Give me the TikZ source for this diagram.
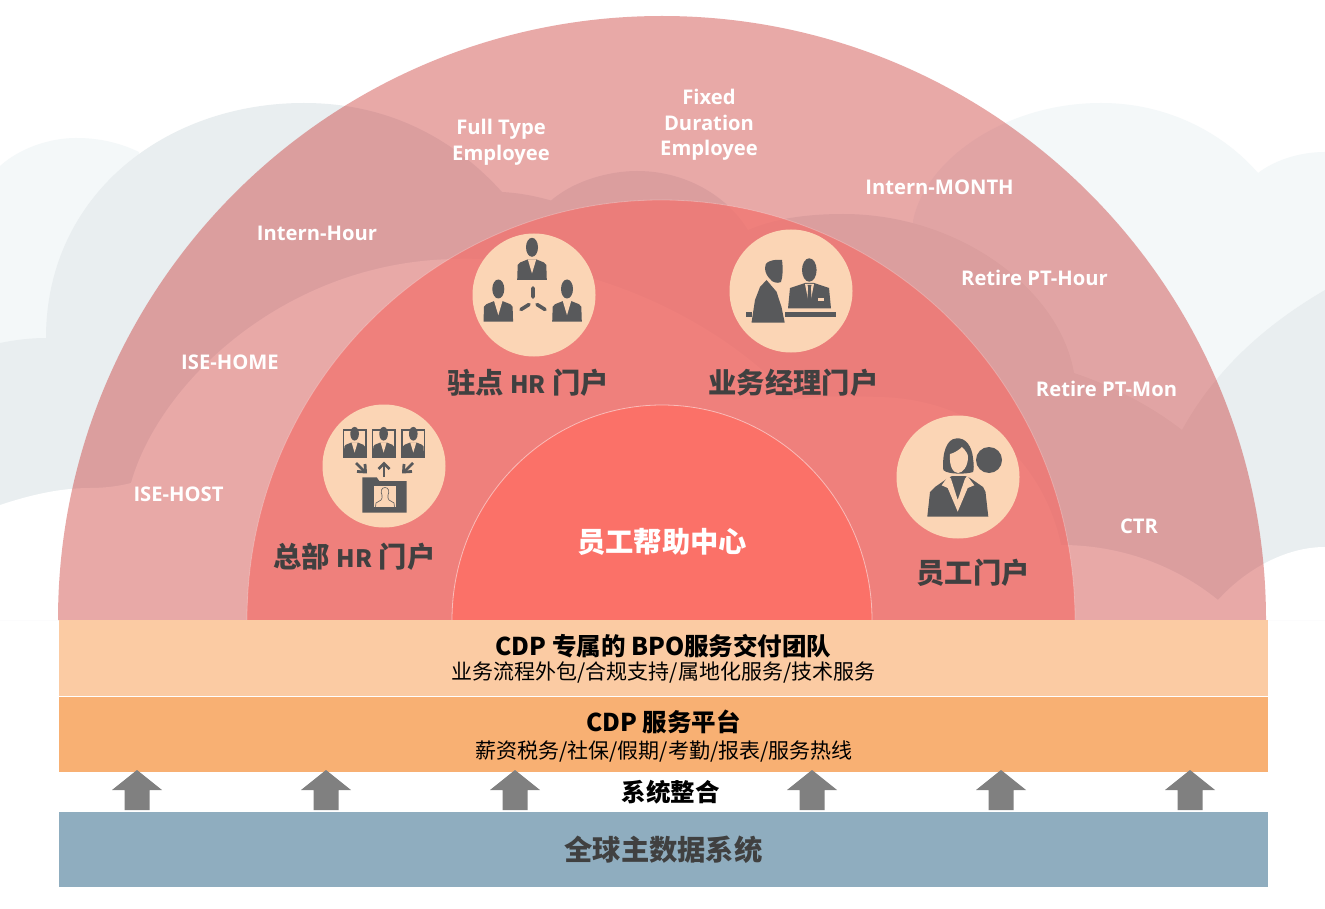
\documentclass[tikz,border=0pt]{standalone}
\usepackage{fontspec}
\setmainfont{Open Sans}
\newfontfamily\cjk{Noto Sans CJK SC}
\definecolor{cloudD}{HTML}{E9EEF0}
\definecolor{cloudL}{HTML}{F4F8F9}
\definecolor{outerC}{RGB}{198,40,37}
\definecolor{midC}{RGB}{243,112,107}
\definecolor{innerC}{HTML}{FB7168}
\definecolor{peach}{HTML}{FBD5B5}
\definecolor{icon}{HTML}{58595B}
\definecolor{bandA}{HTML}{FBCBA3}
\definecolor{bandB}{HTML}{F8B073}
\definecolor{bandC}{HTML}{8FADBF}
\definecolor{arrowC}{HTML}{808080}
\definecolor{labelC}{HTML}{404040}
\newcommand{\hrtxt}{{\fontsize{24}{30}\selectfont HR}}
\tikzset{
 lab/.style={font=\fontsize{20.2}{25.6}\selectfont\bfseries,text=white,align=center,inner sep=0pt},
 portal/.style={font=\cjk\fontsize{28.3}{30}\selectfont\bfseries,text=labelC,inner sep=0pt},
 bandhead/.style={font=\cjk\fontsize{24.5}{26}\selectfont\bfseries,text=black,inner sep=0pt},
 bandsub/.style={font=\cjk\fontsize{21}{24}\selectfont,text=black,inner sep=0pt},
 disc/.style={circle,fill=peach,minimum size=123pt,inner sep=0pt},
 ic/.style={fill=icon,draw=none},
 pc/.style={fill=peach,draw=none},
 bust/.pic={
  \fill[ic] (0,-32.7) ellipse[x radius=6,y radius=9.5];
  \fill[ic] (-14.8,0) -- (-14.3,-15) -- (-12,-17.5) -- (-4.5,-20.5) -- (4.5,-20.5) -- (12,-17.5) -- (14.3,-15) -- (14.8,0) -- cycle;
  \fill[pc] (-4.2,-20.6) -- (0,-6.5) -- (4.2,-20.6) -- cycle;
 },
 upshaft/.pic={
  \fill[arrowC] (0,-40) -- (25,-20) -- (12.5,-20) -- (12.5,0) -- (-12.5,0) -- (-12.5,-20) -- (-25,-20) -- cycle;
 }
}
\begin{document}
\begin{tikzpicture}[x=1pt,y=-1pt]
\useasboundingbox (0,0) rectangle (1325,909);
\fill[white] (0,0) rectangle (1325,909);
% clouds
\fill[cloudL] (0,166) .. controls (20,148) and (50,138) .. (76,138) .. controls (100,138) and (120,143) .. (139,152) -- (139,400) -- (0,400) -- cycle;
\fill[cloudL] (913,221) .. controls (925,160) and (1005,103) .. (1101,103) .. controls (1170,103) and (1225,135) .. (1258,173) .. controls (1275,160) and (1300,152) .. (1325,152) -- (1325,500) -- (913,500) -- cycle;
\fill[cloudD] (0,343) .. controls (15,340) and (30,338) .. (46,338)
  .. controls (46,195) and (165,103) .. (304,103) .. controls (390,103) and (455,140) .. (502,192)
  .. controls (520,193) and (535,196) .. (551,200.5)
  .. controls (575,180) and (610,171) .. (637,171) .. controls (690,171) and (730,200) .. (748,230)
  .. controls (775,218) and (810,214) .. (843,214) .. controls (960,214) and (1060,290) .. (1074,373)
  .. controls (1110,385) and (1150,405) .. (1182,430)
  .. controls (1215,370) and (1265,325) .. (1325,290)
  -- (1325,620) -- (0,620) -- cycle;
\fill[white] (0,505) .. controls (30,495) and (60,488) .. (90,488) .. controls (105,488) and (120,486) .. (131,483)
  .. controls (160,380) and (290,259) .. (460,259) .. controls (575,257) and (710,310) .. (793,400)
  .. controls (815,396) and (850,396) .. (873,397) .. controls (985,397) and (1045,470) .. (1061,545)
  .. controls (1120,545) and (1175,565) .. (1218,600) .. controls (1245,570) and (1285,547) .. (1325,547)
  -- (1325,620) -- (0,620) -- cycle;
% semicircles
\fill[outerC,fill opacity=.4] (58,620) .. controls (58,286.4) and (328.4,16) .. (662,16) .. controls (995.6,16) and (1266,286.4) .. (1266,620) -- cycle;
\fill[midC,fill opacity=.7] (247,620) .. controls (247,388) and (432.3,200) .. (661,200) .. controls (889.7,200) and (1075,388) .. (1075,620) -- cycle;
\draw[white,draw opacity=.25,line width=.8pt] (247,620) .. controls (247,388) and (432.3,200) .. (661,200) .. controls (889.7,200) and (1075,388) .. (1075,620);
\fill[innerC] (452,620) .. controls (452,501.3) and (546,405) .. (662,405) .. controls (778,405) and (872,501.3) .. (872,620) -- cycle;
\draw[white,draw opacity=.5,line width=.8pt] (452,620) .. controls (452,501.3) and (546,405) .. (662,405) .. controls (778,405) and (872,501.3) .. (872,620);
% bands
\fill[bandA] (59,620) rectangle (1268,696);
\fill[bandB] (59,697) rectangle (1268,772);
\fill[bandC] (59,812) rectangle (1268,887);
\foreach \x/\n in {137/a,326/b,515/c,812/d,1001/e,1190/f} \pic (arr\n) at (\x,810) {upshaft};
% outer labels
\node[lab] (l1) at (709,125) {Fixed\\Duration\\Employee};
\node[lab] (l2) at (501,142.5) {Full Type\\Employee};
\node[lab] (l3) at (939.5,187) {Intern-MONTH};
\node[lab] (l4) at (317,233) {Intern-Hour};
\node[lab] (l5) at (1034.5,278) {Retire PT-Hour};
\node[lab] (l6) at (230,362) {ISE-HOME};
\node[lab] (l7) at (1106.5,389) {Retire PT-Mon};
\node[lab] (l8) at (178.5,494) {ISE-HOST};
\node[lab] (l9) at (1139,526) {CTR};
% discs
\node[disc] (d1) at (534,295) {};
\node[disc] (d2) at (791,291) {};
\node[disc] (d3) at (384,466) {};
\node[disc] (d4) at (958,477) {};
% icon 1: three people
\pic at (532,280) {bust};
\pic at (498.3,321.7) {bust};
\pic at (567,321.7) {bust};
\draw[icon,line width=3.6pt,line cap=round] (533,288) -- (533,297) (521,309.5) -- (529,304.5) (545,309.5) -- (537,304.5);
% icon 2: manager at desk
\fill[ic] (785,312) rectangle (836,317);
\fill[ic] (746,312) rectangle (752,317);
\fill[ic] (809.3,270) ellipse[x radius=7.3,y radius=11.7];
\fill[ic] (788,308.5) -- (790,288) -- (805,283) -- (814,283) -- (829,288) -- (831,308.5) -- cycle;
\fill[pc] (805,284) -- (809.5,307) -- (814,284) -- cycle;
\fill[ic] (807.5,285) -- (811.5,285) -- (810.8,287.5) -- (812,305) -- (809.5,307) -- (807,305) -- (808.2,287.5) -- cycle;
\fill[pc] (817.5,298.5) rectangle (824,301);
\fill[ic] (765,268) .. controls (764,262) and (772,259) .. (782,260) .. controls (783,268) and (783,276) .. (781,282) .. controls (777,284) and (772,282) .. (770,279) .. controls (767,276) and (765,272) .. (765,268) -- cycle;
\fill[ic] (751.5,322.7) -- (755,300) -- (760,287) -- (766.5,280) -- (776.5,291.7) -- (781.5,307) -- (784.7,322.7) -- cycle;
% icon 3: frames and folder
\foreach \fx/\n in {343.3/a,372.3/b,402/c} {
 \draw[icon,line width=1.5pt,fill=peach] (\fx,429.8) rectangle +(22.7,27.5);
 \pic[scale=.72] at (\fx+11.3,457.3) {bust};
}
\draw[icon,line width=2.8pt] (384,477) -- (384,464);
\draw[icon,line width=2.8pt] (378.5,469) -- (384,463.5) -- (389.5,469);
\draw[icon,line width=2.8pt] (356,463) -- (365,472);
\draw[icon,line width=2.8pt] (357,471.5) -- (365.5,472) -- (365,464);
\draw[icon,line width=2.8pt] (413,463) -- (404,472);
\draw[icon,line width=2.8pt] (412,471.5) -- (403.5,472) -- (404,464);
\fill[ic] (362.3,477.3) -- (376.7,477.3) -- (379.3,481) -- (406.7,481) -- (406.7,512.7) -- (362.3,512.7) -- cycle;
\fill[pc] (374,486) rectangle (396,507.3);
\draw[icon,line width=.6pt] (385,487.5) .. controls (381,487.5) and (380.5,492) .. (382,495) .. controls (382.5,497) and (382,499) .. (381,500) -- (376,503) -- (375.5,507.3) (385,487.5) .. controls (389,487.5) and (389.5,492) .. (388,495) .. controls (387.5,497) and (388,499) .. (389,500) -- (394,503) -- (394.5,507.3);
% icon 4: woman
\fill[ic] (989,460) circle[radius=13];
\fill[ic] (943.3,470) .. controls (942,452) and (947,439) .. (956,438.5) .. controls (966,437) and (972,447) .. (973,458) .. controls (974,465) and (974,470) .. (973,472) .. controls (968,474) and (948,475) .. (943.3,470) -- cycle;
\fill[pc] (950,454) .. controls (955,453) and (960,449) .. (962,447) .. controls (966,451) and (968,454) .. (968,457) .. controls (968,466) and (963,473) .. (958,473) .. controls (953,473) and (949,466) .. (950,454) -- cycle;
\fill[ic] (927.3,516.7) -- (930,492) -- (935,487) -- (948,478) -- (952,476) -- (965,476) -- (970,478) -- (983,487) -- (985.5,492) -- (988.3,516.7) -- cycle;
\fill[pc] (948.3,476) -- (941.7,485.3) -- (947.7,488) -- (957.7,511.7) -- (967.7,488) -- (974.3,485.3) -- (967.3,476) -- (965,478.7) -- (957.7,500) -- (951,478.7) -- cycle;
% portal labels
\node[portal] (p1) at (528,382.5) {驻点 \hrtxt{} 门户};
\node[portal] (p2) at (793.5,382.5) {业务经理门户};
\node[portal] (p3) at (354.5,556.5) {总部 \hrtxt{} 门户};
\node[portal] (p4) at (973,572.5) {员工门户};
\node[portal,text=white] (p5) at (662,541.5) {员工帮助中心};
% band text
\node[bandhead] (b1) at (663.5,646) {CDP 专属的 BPO服务交付团队};
\node[bandsub] (b2) at (663.5,672.5) {业务流程外包/合规支持/属地化服务/技术服务};
\node[bandhead] (b3) at (663.5,722) {CDP 服务平台};
\node[bandsub] (b4) at (664,751.5) {薪资税务/社保/假期/考勤/报表/服务热线};
\node[bandhead] (b5) at (670.5,792) {系统整合};
\node[portal] (b6) at (663.5,850) {全球主数据系统};
\end{tikzpicture}
\end{document}
